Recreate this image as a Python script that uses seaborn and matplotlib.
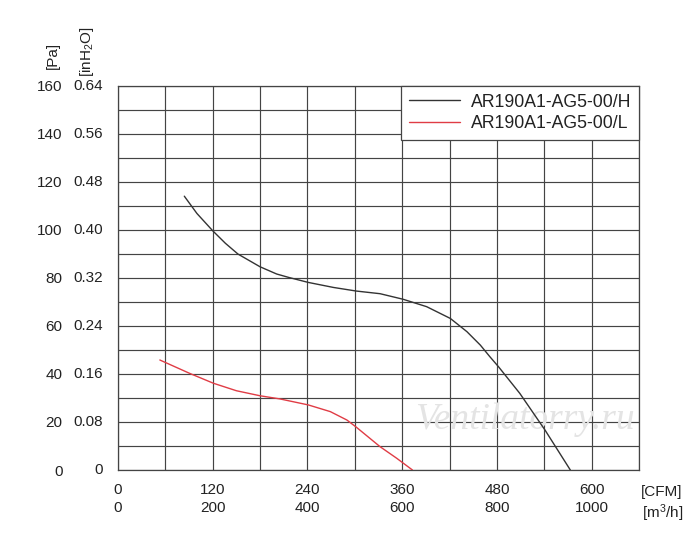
import pandas as pd
import seaborn as sns
import matplotlib.pyplot as plt
from matplotlib import transforms

# curve H (black)
h_cfm = [84, 100, 120, 136, 152, 180, 201, 216, 241, 273, 302, 332, 361, 391, 421,
         442, 459, 471, 482, 509, 541, 573]
h_pa = [114, 106.8, 99.6, 94.4, 89.9, 84.6, 81.6, 80.2, 78.1, 76.0, 74.5, 73.4, 71.1, 68.0, 63.1,
        57.6, 52.0, 47.2, 43.0, 31.9, 16.6, 0]

# curve L (red)
l_cfm = [53, 91, 121, 150, 180, 205, 241, 269, 290, 302, 332, 353, 373]
l_pa = [45.8, 40.2, 36.1, 33.0, 30.9, 29.6, 27.1, 24.3, 20.8, 17.8, 9.7, 4.9, 0]

names = ['AR190A1-AG5-00/H', 'AR190A1-AG5-00/L']
pa_ticks = [0, 20, 40, 60, 80, 100, 120, 140, 160]
inh2o_labels = ['0', '0.08', '0.16', '0.24', '0.32', '0.40', '0.48', '0.56', '0.64']
cfm_ticks = [0, 120, 240, 360, 480, 600]
m3h_labels = ['0', '200', '400', '600', '800', '1000']

df = pd.concat([
    pd.DataFrame({'cfm': h_cfm, 'pa': h_pa, 'model': names[0]}),
    pd.DataFrame({'cfm': l_cfm, 'pa': l_pa, 'model': names[1]}),
])

sns.set_style('white')
plt.rcParams['font.family'] = ['Liberation Sans', 'DejaVu Sans']
plt.rcParams['mathtext.fontset'] = 'custom'
plt.rcParams['mathtext.rm'] = 'Liberation Sans'
plt.rcParams['mathtext.it'] = 'Liberation Sans'

fig = plt.figure(figsize=(7, 5.41), dpi=100)
ax = fig.add_axes([118 / 700, 1 - 470 / 541, 521 / 700, 384.3 / 541])

gc = '#444444'
tc = '#222222'

# watermark
ax.text(0.78, 0.13, 'Ventilatorry.ru', transform=ax.transAxes, ha='center', va='center',
        fontsize=27, style='italic', family='Liberation Serif', color='#e4e4e4', zorder=3)

for x in range(0, 661, 60):
    ax.axvline(x, color=gc, lw=0.85, zorder=1)
for y in range(0, 161, 10):
    ax.axhline(y, color=gc, lw=0.85, zorder=1)

sns.lineplot(data=df, x='cfm', y='pa', hue='model', palette=['#333333', '#e03c45'],
             sort=False, estimator=None, lw=1.0, ax=ax, zorder=4)

ax.set_xlim(0, 660)
ax.set_ylim(0, 160)
ax.set_xlabel('')
ax.set_ylabel('')
for s in ax.spines.values():
    s.set_color(gc)
    s.set_linewidth(0.9)

ax.set_xticks(range(0, 661, 60))
xl = []
for x in range(0, 661, 60):
    if x in cfm_ticks:
        xl.append(f'{x}\n{m3h_labels[cfm_ticks.index(x)]}')
    else:
        xl.append('')
ax.set_xticklabels(xl, linespacing=1.45)
ax.set_yticks(pa_ticks)
ax.set_yticklabels([str(v) for v in pa_ticks])
ax.tick_params(axis='x', length=5, width=0.9, color=gc, pad=4, labelsize=11, labelcolor=tc)
ax.tick_params(axis='y', length=5, width=0.9, color=gc, pad=35, labelsize=11, labelcolor=tc)

tr = transforms.blended_transform_factory(ax.transAxes, ax.transData)
for v, lab in zip(pa_ticks, inh2o_labels):
    ax.text(-15 / 521, v, lab, transform=tr, ha='right', va='center', fontsize=11, color=tc)

fig.text(53 / 700, 1 - 55 / 541, '[Pa]', rotation=90, ha='center', va='center', fontsize=11, color=tc)
fig.text(87 / 700, 1 - 52 / 541, '[inH$_2$O]', rotation=90, ha='center', va='center', fontsize=11, color=tc)
fig.text(662 / 700, 1 - 492 / 541, '[CFM]', ha='center', va='center', fontsize=11, color=tc)
fig.text(663 / 700, 1 - 513 / 541, '[m$^3$/h]', ha='center', va='center', fontsize=11, color=tc)

leg = ax.legend(loc='upper right', borderaxespad=0, fancybox=False, fontsize=12.7,
                handlelength=2.9, handletextpad=0.6, borderpad=0.45, labelspacing=0.25,
                framealpha=1, edgecolor=gc)
leg.get_frame().set_linewidth(0.9)
leg.set_zorder(5)
for t in leg.get_texts():
    t.set_color(tc)

fig.savefig('out.png', dpi=100)
